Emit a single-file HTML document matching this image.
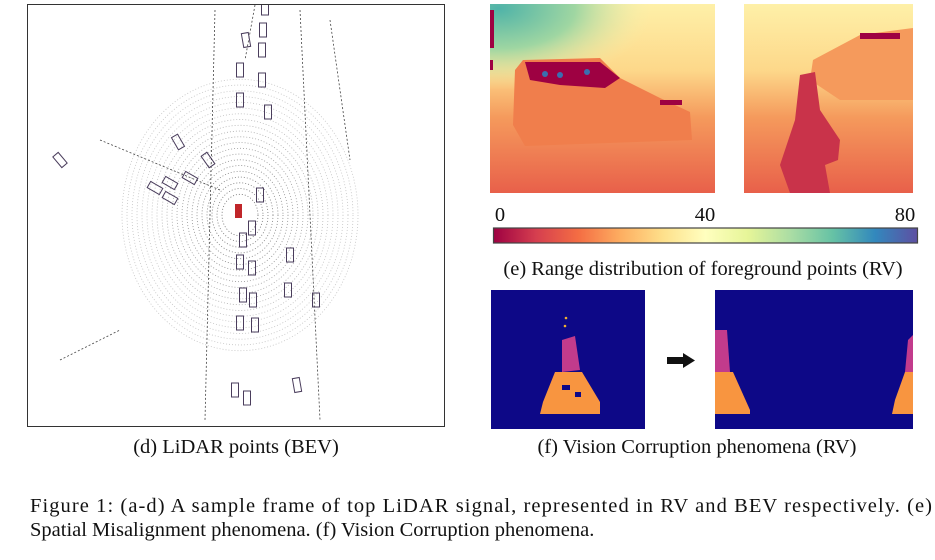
<!DOCTYPE html>
<html><head><meta charset="utf-8"><style>
html,body{margin:0;padding:0;background:#fff;}
svg{display:block;font-family:"Liberation Serif",serif;}
</style></head><body>
<svg width="935" height="560" viewBox="0 0 935 560" xmlns="http://www.w3.org/2000/svg">
<defs>
<linearGradient id="spec" x1="0" x2="1" y1="0" y2="0">
<stop offset="0" stop-color="#9e0142"/><stop offset="0.1" stop-color="#d53e4f"/><stop offset="0.2" stop-color="#f46d43"/><stop offset="0.3" stop-color="#fdae61"/><stop offset="0.4" stop-color="#fee08b"/><stop offset="0.5" stop-color="#ffffbf"/><stop offset="0.6" stop-color="#e6f598"/><stop offset="0.7" stop-color="#abdda4"/><stop offset="0.8" stop-color="#66c2a5"/><stop offset="0.9" stop-color="#3288bd"/><stop offset="1" stop-color="#5e4fa2"/>
</linearGradient>
<linearGradient id="bgE" x1="0" x2="0" y1="0" y2="1">
<stop offset="0" stop-color="#fef0a8"/><stop offset="0.35" stop-color="#fdd88a"/><stop offset="0.6" stop-color="#f59a5c"/><stop offset="1" stop-color="#e8604a"/>
</linearGradient>
<radialGradient id="teal" cx="0.05" cy="0.05" r="0.9">
<stop offset="0" stop-color="#4fb3a8"/><stop offset="0.5" stop-color="#9fd6a2"/><stop offset="1" stop-color="#f6f0ad" stop-opacity="0"/>
</radialGradient>
<clipPath id="bevclip"><rect x="28" y="5" width="416" height="421"/></clipPath>
</defs>

<g>
<rect x="27.5" y="4.5" width="417" height="422" fill="#fff" stroke="#333" stroke-width="1"/>
<g clip-path="url(#bevclip)" id="bev" fill="none" stroke="#555" stroke-width="0.8" stroke-dasharray="1 2"></g>
<rect x="235" y="204" width="7" height="14" fill="#c0262a"/>
</g>
<text x="236" y="453" font-size="20.5" text-anchor="middle" fill="#111">(d) LiDAR points (BEV)</text>

<g>
<rect x="490" y="4" width="225" height="189" fill="url(#bgE)"/>
<rect x="490" y="4" width="170" height="90" fill="url(#teal)"/>
<path d="M490 10 h4 v38 h-4z M490 60 h3 v10 h-3z" fill="#9e0142"/>
<path d="M523 60 L600 58 L620 78 L660 98 L690 112 L692 140 L525 146 L513 125 L515 70 Z" fill="#f07e4c"/>
<path d="M525 62 L600 62 L620 78 L605 88 L560 85 L530 80 Z" fill="#9e0142"/>
<circle cx="545" cy="74" r="3" fill="#3a6fb0"/><circle cx="560" cy="75" r="3" fill="#3a6fb0"/><circle cx="587" cy="72" r="3" fill="#3a6fb0"/>
<rect x="660" y="100" width="22" height="5" fill="#9e0142"/>
</g>
<g>
<rect x="744" y="4" width="169" height="189" fill="url(#bgE)"/>
<path d="M813 60 L860 35 L913 28 V100 L840 100 L810 80 Z" fill="#f59a5c"/>
<path d="M800 75 L815 72 L820 110 L840 140 L838 160 L825 165 L830 193 L790 193 L780 165 L795 120 Z" fill="#c9334a"/>
<rect x="860" y="33" width="40" height="6" fill="#9e0142"/>
</g>
<g>
<text x="500" y="221" font-size="20.5" text-anchor="middle" fill="#111">0</text>
<text x="705" y="221" font-size="20.5" text-anchor="middle" fill="#111">40</text>
<text x="905" y="221" font-size="20.5" text-anchor="middle" fill="#111">80</text>
<rect x="493.5" y="228" width="424" height="15" fill="url(#spec)" stroke="#444" stroke-width="1.2"/>
</g>
<text x="703" y="275" font-size="20.5" text-anchor="middle" fill="#111">(e) Range distribution of foreground points (RV)</text>

<g>
<rect x="491" y="290" width="154" height="139" fill="#0d0887"/>
<path d="M562 340 L575 336 L580 370 L562 372 Z" fill="#c23b8c"/>
<path d="M555 372 L582 372 L600 402 L600 414 L540 414 L543 402 Z" fill="#f89540"/>
<circle cx="566" cy="318" r="1.3" fill="#f0b030"/><circle cx="565" cy="326" r="1.3" fill="#f0b030"/>
<rect x="562" y="385" width="8" height="5" fill="#0d0887"/><rect x="575" y="392" width="6" height="5" fill="#0d0887"/>
</g>
<g>
<rect x="667" y="357" width="16" height="7" fill="#111"/>
<path d="M683 353 L695 360.5 L683 368 Z" fill="#111"/>
</g>
<g>
<rect x="715" y="290" width="198" height="139" fill="#0d0887"/>
<path d="M715 330 L727 330 L730 372 L715 372 Z" fill="#c23b8c"/>
<path d="M715 372 L733 372 L750 410 L750 414 L715 414 Z" fill="#f89540"/>
<path d="M908 340 L913 335 V372 H905 Z" fill="#c23b8c"/>
<path d="M905 372 H913 V414 H892 L895 400 Z" fill="#f89540"/>
</g>
<text x="697" y="453" font-size="20.5" text-anchor="middle" fill="#111">(f) Vision Corruption phenomena (RV)</text>

<text x="30" y="512" font-size="20.5" fill="#111" textLength="902" lengthAdjust="spacing">Figure 1: (a-d) A sample frame of top LiDAR signal, represented in RV and BEV respectively. (e)</text>
<text x="30" y="536" font-size="20.5" fill="#111">Spatial Misalignment phenomena. (f) Vision Corruption phenomena.</text>
</svg>
<script>
const ns='http://www.w3.org/2000/svg';
const g=document.getElementById('bev');
for(let r=18;r<=120;r+=5){
  const e=document.createElementNS(ns,'ellipse');
  
  
  e.setAttribute('cx',240);e.setAttribute('cy',215);
  e.setAttribute('rx',r);e.setAttribute('ry',r*1.15);
  e.setAttribute('stroke-opacity',Math.max(0.35,1-r/140));
  g.appendChild(e);
}
const roads=[[215,10,205,420],[300,10,320,420],[255,5,245,60],[330,20,350,160],[100,140,220,190],[60,360,120,330]];
roads.forEach(function(l){
  const p=document.createElementNS(ns,'line');
  
  
  p.setAttribute('x1',l[0]);p.setAttribute('y1',l[1]);p.setAttribute('x2',l[2]);p.setAttribute('y2',l[3]);
  p.setAttribute('stroke','#444');p.setAttribute('stroke-dasharray','2 2');
  g.appendChild(p);
});
const boxes=[[265,8,0],[263,30,0],[246,40,-10],[262,50,0],[240,70,0],[262,80,0],[240,100,0],[268,112,0],[178,142,-30],[208,160,-35],[190,178,-60],[170,183,-60],[155,188,-60],[170,198,-60],[260,195,0],[252,228,0],[243,240,0],[240,262,0],[252,268,0],[243,295,0],[253,300,0],[240,323,0],[255,325,0],[290,255,0],[288,290,0],[235,390,0],[297,385,-10],[247,398,0],[316,300,0],[60,160,-40]];
boxes.forEach(function(b){
  const r=document.createElementNS(ns,'rect');
  
  
  r.setAttribute('x',b[0]-3.5);r.setAttribute('y',b[1]-7);r.setAttribute('width',7);r.setAttribute('height',14);
  r.setAttribute('stroke','#4a3d5c');r.setAttribute('stroke-dasharray','none');r.setAttribute('stroke-width','1');
  r.setAttribute('transform','rotate('+b[2]+' '+b[0]+' '+b[1]+')');
  g.appendChild(r);
});
</script>
</body></html>
